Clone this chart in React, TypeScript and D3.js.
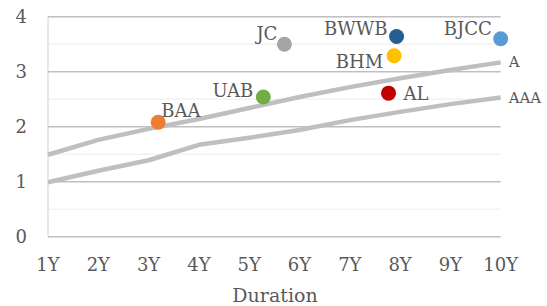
import React, { useEffect, useRef } from 'react';
import * as d3 from 'd3';

const durations = [1, 2, 3, 4, 5, 6, 7, 8, 9, 10];
const tickLabels = ['1Y', '2Y', '3Y', '4Y', '5Y', '6Y', '7Y', '8Y', '9Y', '10Y'];
const curveA = [1.49, 1.76, 1.96, 2.14, 2.34, 2.54, 2.72, 2.88, 3.03, 3.17];
const curveAAA = [0.99, 1.2, 1.39, 1.67, 1.8, 1.94, 2.12, 2.27, 2.41, 2.53];
const yTicks = [0, 1, 2, 3, 4];

const issuers = ['BAA', 'UAB', 'JC', 'BWWB', 'BHM', 'AL', 'BJCC'];
const issuerDuration = [3.19, 5.28, 5.7, 7.93, 7.88, 7.77, 10.0];
const issuerYield = [2.08, 2.54, 3.5, 3.64, 3.29, 2.61, 3.6];
const issuerColors = ['#ed7d31', '#70ad47', '#a5a5a5', '#255e91', '#ffc000', '#c00000', '#5b9bd5'];
// label placement relative to marker: [anchor, dx, dy]
const labelPlace: [string, number, number][] = [
  ['start', 3, -5],
  ['end', -10, 0],
  ['end', -7, -4],
  ['end', -9, -2],
  ['end', -11, 12],
  ['start', 15, 7],
  ['end', -9, -4],
];

const FONT = '"DejaVu Serif", serif';

const App: React.FC = () => {
  const svgRef = useRef<SVGSVGElement>(null);

  useEffect(() => {
    if (!svgRef.current) return;
    const svg = d3.select(svgRef.current);
    svg.selectAll('*').remove();

    const x = d3.scaleLinear().domain([1, 10]).range([48, 500.7]);
    const y = d3.scaleLinear().domain([0, 4]).range([236.7, 16.7]);
    const txt = '#595959';

    // minor gridlines
    svg.append('g').selectAll('line')
      .data(d3.range(0.5, 4, 1))
      .join('line')
      .attr('x1', x(1)).attr('x2', x(10))
      .attr('y1', d => y(d)).attr('y2', d => y(d))
      .attr('stroke', '#ececec').attr('stroke-width', 1);

    // vertical axis line
    svg.append('line')
      .attr('x1', x(1)).attr('x2', x(1))
      .attr('y1', y(4)).attr('y2', y(0))
      .attr('stroke', '#d9d9d9').attr('stroke-width', 1.2);

    // major gridlines
    svg.append('g').selectAll('line')
      .data(yTicks)
      .join('line')
      .attr('x1', x(1)).attr('x2', x(10))
      .attr('y1', d => y(d)).attr('y2', d => y(d))
      .attr('stroke', '#bfbfbf').attr('stroke-width', 1.4);

    // y tick labels
    svg.append('g').selectAll('text')
      .data(yTicks)
      .join('text')
      .attr('x', 27).attr('y', d => y(d) + 6)
      .attr('text-anchor', 'end')
      .style('font-family', FONT).style('font-size', '18px').attr('fill', txt)
      .text(d => d);

    // x tick labels
    svg.append('g').selectAll('text')
      .data(durations)
      .join('text')
      .attr('x', d => x(d)).attr('y', 271)
      .attr('text-anchor', 'middle')
      .style('font-family', FONT).style('font-size', '18px').attr('fill', txt)
      .text((d, i) => tickLabels[i]);

    svg.append('text')
      .attr('x', 275).attr('y', 302)
      .attr('text-anchor', 'middle')
      .style('font-family', FONT).style('font-size', '19px').attr('fill', txt)
      .text('Duration');

    // curves
    const line = d3.line<number>().x((d, i) => x(durations[i])).y(d => y(d));
    [curveA, curveAAA].forEach(c => {
      svg.append('path')
        .attr('d', line(c))
        .attr('fill', 'none')
        .attr('stroke', '#bfbfbf')
        .attr('stroke-width', 4.5)
        .attr('stroke-linejoin', 'round');
    });
    [['A', curveA], ['AAA', curveAAA]].forEach(([name, c]) => {
      const vals = c as number[];
      svg.append('text')
        .attr('x', x(10) + 8).attr('y', y(vals[vals.length - 1]) + 5)
        .style('font-family', FONT).style('font-size', '15px').attr('fill', txt)
        .text(name as string);
    });

    // issuer points
    issuers.forEach((name, i) => {
      const cx = x(issuerDuration[i]);
      const cy = y(issuerYield[i]);
      svg.append('circle')
        .attr('cx', cx).attr('cy', cy).attr('r', 7.5)
        .attr('fill', issuerColors[i]);
      const [anchor, dx, dy] = labelPlace[i];
      svg.append('text')
        .attr('x', cx + dx).attr('y', cy + dy)
        .attr('text-anchor', anchor)
        .style('font-family', FONT).style('font-size', '18px').attr('fill', txt)
        .text(name);
    });
  }, []);

  return (
    <div style={{ position: 'absolute', left: 0, top: 0, width: 547, height: 306, background: '#fff' }}>
      <svg ref={svgRef} width={547} height={306} />
    </div>
  );
};

export default App;
